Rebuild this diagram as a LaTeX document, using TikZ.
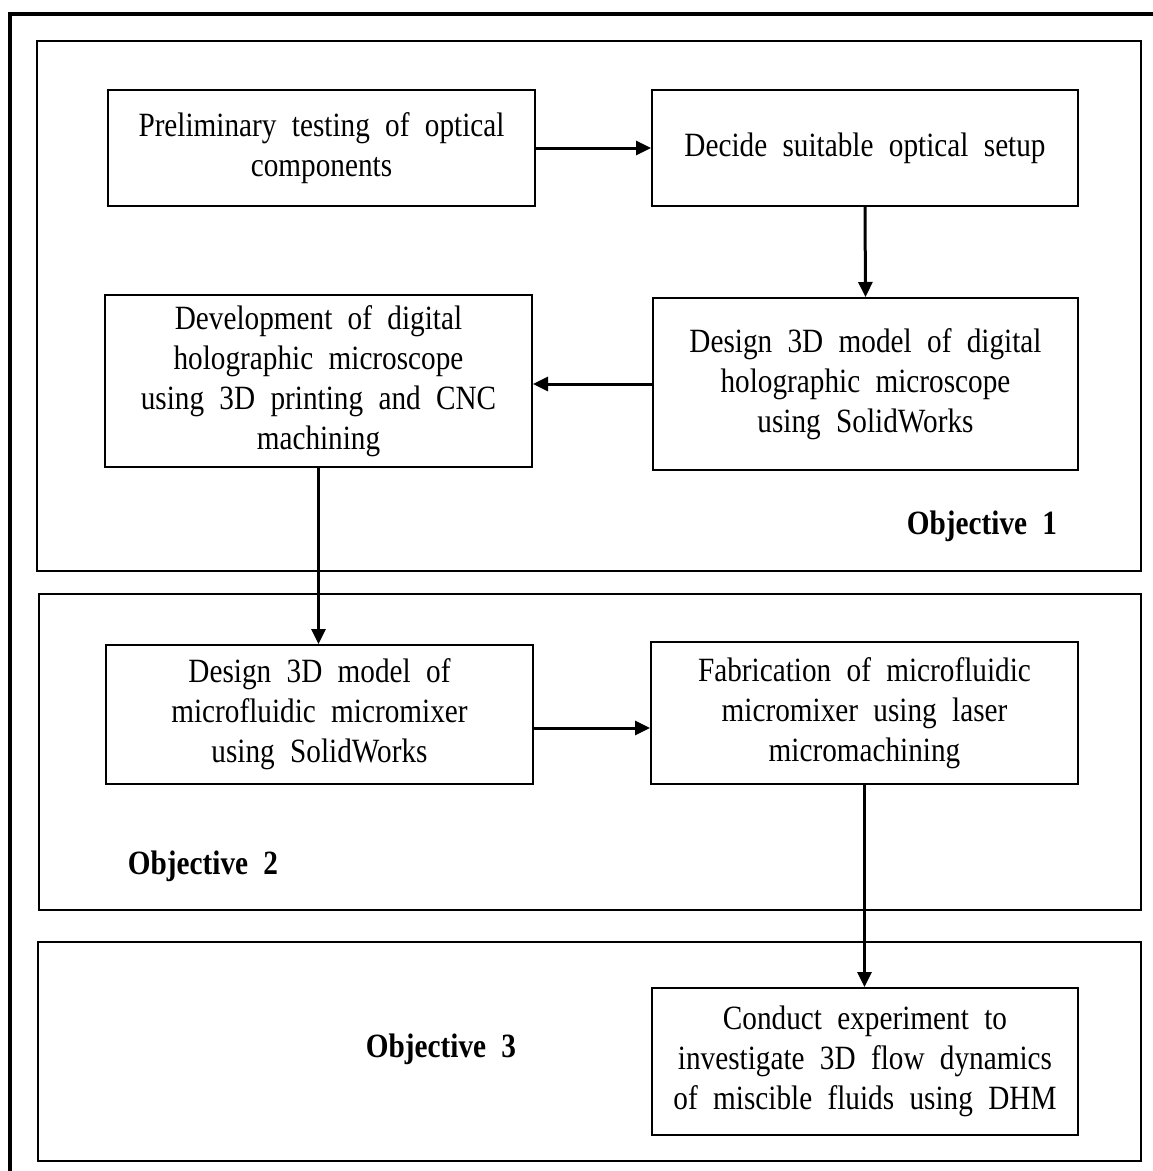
\documentclass[tikz,border=0pt]{standalone}
\usepackage{fontspec}
\setmainfont{Liberation Serif}[FakeStretch=0.86,WordSpace=2.1]
\usetikzlibrary{arrows.meta,calc}
\begin{document}
\begin{tikzpicture}[x=1pt,y=-1pt,
  box/.style={draw, line width=2pt, align=center, inner sep=0pt,
    font=\fontsize{34}{40}\selectfont},
  objbox/.style={draw, line width=2pt},
  lab/.style={font=\fontsize{34}{40}\selectfont\bfseries, inner sep=0pt},
  arr/.style={line width=3pt, -{Triangle[length=15pt,width=14pt]}}]
\useasboundingbox (0,0) rectangle (1153,1171);
\clip (0,0) rectangle (1153,1171);
\fill[white] (0,0) rectangle (1153,1171);
% outer frame
\draw[line width=3.5pt] (10,14) rectangle (1175,1195);
% objective frames
\draw[objbox] (37,41) rectangle (1141,571);
\draw[objbox] (39,594) rectangle (1141,910);
\draw[objbox] (38,942) rectangle (1141,1161);
% process boxes
\node[box, minimum width=427pt, minimum height=116pt] (pre) at (321.5,148)
  {Preliminary testing of optical\\components};
\node[box, minimum width=426pt, minimum height=116pt] (dec) at (865,148)
  {Decide suitable optical setup};
\node[box, minimum width=427pt, minimum height=172pt] (dev) at (318.5,381)
  {Development of digital\\holographic microscope\\using 3D printing and CNC\\machining};
\node[box, minimum width=425pt, minimum height=172pt] (des) at (865.5,384)
  {Design 3D model of digital\\holographic microscope\\using SolidWorks};
\node[box, minimum width=427pt, minimum height=139pt] (mix) at (319.5,714.5)
  {Design 3D model of\\microfluidic micromixer\\using SolidWorks};
\node[box, minimum width=427pt, minimum height=142pt] (fab) at (864.5,713)
  {Fabrication of microfluidic\\micromixer using laser\\micromachining};
\node[box, minimum width=426pt, minimum height=147pt] (exp) at (865,1061.5)
  {Conduct experiment to\\investigate 3D flow dynamics\\of miscible fluids using DHM};
% labels
\node[lab] (o1) at (982,526) {Objective 1};
\node[lab] (o2) at (203,866) {Objective 2};
\node[lab] (o3) at (441,1049) {Objective 3};
% connectors
\draw[arr] (pre.east) -- (dec.west);
\draw[arr] (dec.south) -- (des.north);
\draw[arr] (des.west) -- (des.west -| dev.east);
\draw[arr] (dev.south) -- (dev.south |- mix.north);
\draw[arr] (mix.east |- 0,728) -- (fab.west |- 0,728);
\draw[arr] (fab.south) -- (fab.south |- exp.north);
\end{tikzpicture}
\end{document}
